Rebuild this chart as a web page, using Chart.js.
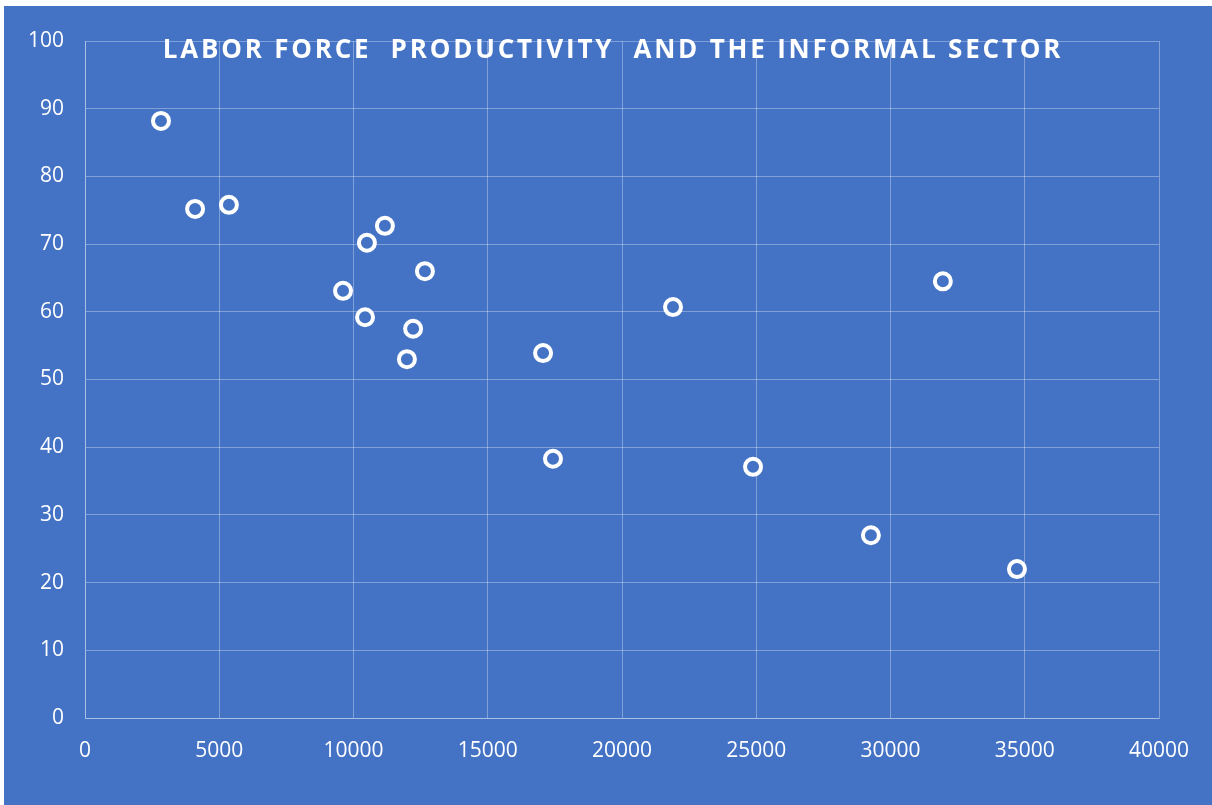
<!DOCTYPE html>
<html>
<head>
<meta charset="utf-8">
<script src="https://cdn.jsdelivr.net/npm/chart.js@4/dist/chart.umd.min.js"></script>
<style>
  html, body { margin: 0; padding: 0; background: #fff; }
  #wrap { position: absolute; left: 4px; top: 6px; width: 1208px; height: 799px; background: #4472c4; }
  #title {
    position: absolute; left: 0; width: 1218px; top: 24px; text-align: center;
    font-family: "Open Sans", sans-serif; font-weight: 700; font-size: 26px;
    letter-spacing: 2.8px; color: #fff; white-space: pre; pointer-events: none;
  }
</style>
</head>
<body>
<div id="wrap">
  <canvas id="chart" width="1208" height="799"></canvas>
  <div id="title">LABOR FORCE  PRODUCTIVITY  AND THE INFORMAL SECTOR</div>
</div>
<script>
// productivity (x) vs informal sector share (y)
const productivity = [2830, 4100, 5360, 10500, 11170, 12660, 9610, 10430, 12220, 11990, 17060, 17430, 21900, 24880, 29270, 31950, 34710];
const informalShare = [88.2, 75.2, 75.8, 70.2, 72.7, 66.0, 63.1, 59.2, 57.5, 53.0, 53.9, 38.3, 60.7, 37.1, 27.0, 64.5, 22.0];

const blue = "#4472c4";
const gridColor = "rgba(255,255,255,0.33)";
const tickFont = { family: "'Open Sans', sans-serif", size: 21 };

const points = productivity.map((x, i) => ({ x: x, y: informalShare[i] }));

new Chart(document.getElementById("chart"), {
  type: "scatter",
  data: {
    datasets: [{
      data: points,
      pointRadius: 8,
      pointHoverRadius: 8,
      borderWidth: 4,
      borderColor: "#fff",
      backgroundColor: blue,
    }],
  },
  options: {
    responsive: false,
    animation: false,
    events: [],
    layout: { padding: { left: 0, right: 53, top: 35, bottom: 0 } },
    plugins: { legend: { display: false }, tooltip: { enabled: false } },
    scales: {
      x: {
        type: "linear",
        min: 0,
        max: 40000,
        afterFit: (s) => { s.height = 87; },
        ticks: { stepSize: 5000, color: "#fff", font: tickFont, padding: 20, maxRotation: 0, callback: (v) => String(v) },
        grid: { color: gridColor, drawTicks: false },
        border: { color: gridColor },
      },
      y: {
        min: 0,
        max: 100,
        afterFit: (s) => { s.width = 81; },
        ticks: { stepSize: 10, color: "#fff", font: tickFont, padding: 21, callback: (v) => String(v) },
        grid: { color: gridColor, drawTicks: false },
        border: { color: gridColor },
      },
    },
  },
});
</script>
</body>
</html>
